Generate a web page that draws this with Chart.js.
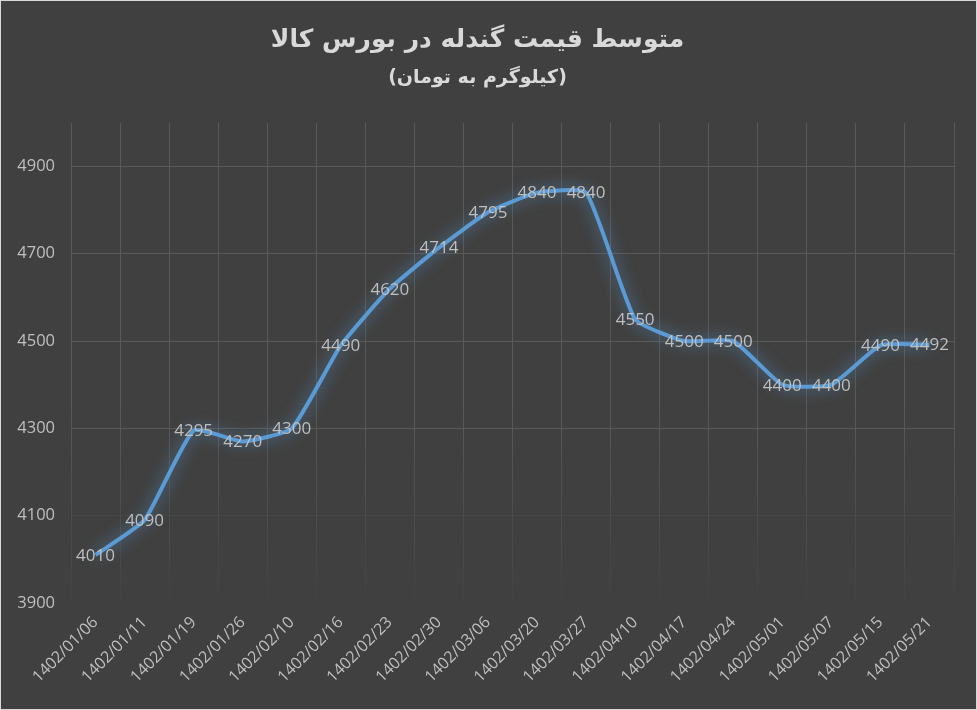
<!DOCTYPE html>
<html>
<head>
<meta charset="utf-8">
<script src="https://cdn.jsdelivr.net/npm/chart.js@4.4.0/dist/chart.umd.min.js"></script>
<style>
	html, body { margin: 0; padding: 0; background: #404040; }
	.chart-box {
		position: absolute; left: 0; top: 0;
		width: 977px; height: 710px;
		box-sizing: border-box;
		border: 1px solid #d9d9d9;
		background: #404040;
	}
</style>
</head>
<body>
<div class="chart-box"><canvas id="priceChart"></canvas></div>
<script>
const dates = ['1402/01/06', '1402/01/11', '1402/01/19', '1402/01/26', '1402/02/10', '1402/02/16',
	'1402/02/23', '1402/02/30', '1402/03/06', '1402/03/20', '1402/03/27', '1402/04/10',
	'1402/04/17', '1402/04/24', '1402/05/01', '1402/05/07', '1402/05/15', '1402/05/21'];
const prices = [4010, 4090, 4295, 4270, 4300, 4490, 4620, 4714, 4795, 4840, 4840, 4550,
	4500, 4500, 4400, 4400, 4490, 4492];
const yTicks = [3900, 4100, 4300, 4500, 4700, 4900];
const titleText = 'متوسط قیمت گندله در بورس کالا';
const subtitleText = '(کیلوگرم به تومان)';

const gridColor = '#595959';
const textColor = '#bfbfbf';

// fade the grid toward the bottom of the plot, like the excel picture
const fadeGrid = (ctx) => {
	const area = ctx.chart.chartArea;
	if (!area) return gridColor;
	const g = ctx.chart.ctx.createLinearGradient(0, area.top, 0, area.bottom);
	g.addColorStop(0, gridColor);
	g.addColorStop(0.6, gridColor);
	g.addColorStop(1, 'rgba(89, 89, 89, 0.08)');
	return g;
};

const glowPlugin = {
	id: 'glow',
	beforeDatasetDraw(chart) {
		chart.ctx.save();
		chart.ctx.shadowColor = 'rgba(91, 155, 213, 0.8)';
		chart.ctx.shadowBlur = 15;
	},
	afterDatasetDraw(chart) {
		chart.ctx.restore();
	}
};

const labelPlugin = {
	id: 'pointLabels',
	afterDatasetsDraw(chart) {
		const ctx = chart.ctx;
		const meta = chart.getDatasetMeta(0);
		ctx.save();
		ctx.font = '17px "Open Sans"';
		ctx.fillStyle = textColor;
		ctx.textAlign = 'center';
		ctx.textBaseline = 'middle';
		meta.data.forEach((pt, i) => {
			ctx.fillText(String(prices[i]), pt.x, pt.y + 1);
		});
		ctx.restore();
	}
};

const ctx = document.getElementById('priceChart').getContext('2d');
const priceChart = new Chart(ctx, {
	type: 'line',
	data: {
		labels: dates,
		datasets: [{
			label: 'price',
			data: prices,
			borderColor: '#5b9bd5',
			borderWidth: 4,
			pointRadius: 0,
			tension: 0.15,
			fill: false
		}]
	},
	options: {
		responsive: true,
		maintainAspectRatio: false,
		animation: false,
		layout: {
			padding: { left: 0, right: 22, top: 22, bottom: 6 }
		},
		plugins: {
			legend: { display: false },
			tooltip: { enabled: false },
			title: {
				display: true,
				text: titleText,
				color: '#d9d9d9',
				font: { family: 'DejaVu Sans', size: 25, weight: 'bold', lineHeight: 1.2 },
				padding: { top: 2, bottom: 12 }
			},
			subtitle: {
				display: true,
				text: subtitleText,
				color: '#d9d9d9',
				font: { family: 'DejaVu Sans', size: 19, weight: 'bold', lineHeight: 1.2 },
				padding: { top: 0, bottom: 33 }
			}
		},
		scales: {
			x: {
				offset: true,
				afterFit: (axis) => { axis.height = 100; },
				grid: { color: fadeGrid, offset: true, drawTicks: false },
				border: { display: false },
				ticks: {
					color: textColor,
					font: { family: 'Open Sans', size: 16 },
					minRotation: 45,
					maxRotation: 45,
					autoSkip: false,
					padding: 10
				}
			},
			y: {
				min: 3900,
				max: 5000,
				afterBuildTicks: (axis) => {
					axis.ticks = yTicks.map(v => ({ value: v }));
				},
				afterFit: (axis) => { axis.width = 70; },
				grid: {
					drawTicks: false,
					color: (c) => {
						if (c.tick && c.tick.value <= 3900) return 'rgba(0,0,0,0)';
						if (c.tick && c.tick.value <= 4100) return 'rgba(89, 89, 89, 0.25)';
						return gridColor;
					}
				},
				border: { display: false },
				ticks: {
					color: textColor,
					font: { family: 'Open Sans', size: 16.5 },
					padding: 16,
					callback: (v) => String(v)
				}
			}
		}
	},
	plugins: [glowPlugin, labelPlugin]
});
</script>
</body>
</html>
